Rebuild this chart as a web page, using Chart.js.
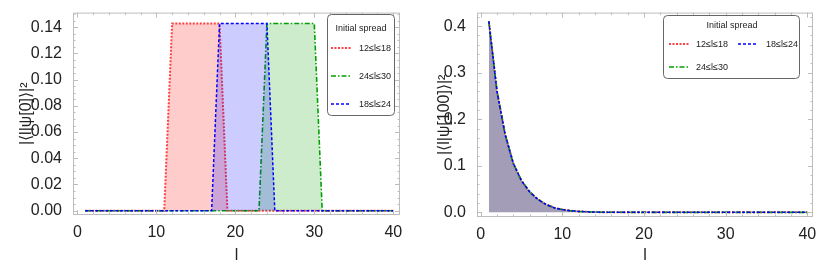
<!DOCTYPE html>
<html>
<head>
<meta charset="utf-8">
<script src="https://cdn.jsdelivr.net/npm/chart.js@4.4.1/dist/chart.umd.min.js"></script>
<style>
  html, body { margin: 0; padding: 0; background: #fff; }
  #wrap { position: relative; width: 830px; height: 265px; }
  .box { position: absolute; top: 0; width: 415px; height: 265px; }
</style>
</head>
<body>
<div id="wrap">
  <div class="box" style="left:0"><canvas id="leftChart" width="415" height="265"></canvas></div>
  <div class="box" style="left:415px"><canvas id="rightChart" width="415" height="265"></canvas></div>
</div>
<script>
// site index l
const ells = [1,2,3,4,5,6,7,8,9,10,11,12,13,14,15,16,17,18,19,20,21,22,23,24,25,26,27,28,29,30,31,32,33,34,35,36,37,38,39,40];

// |<l|psi[0]>|^2 for the three initial spreads
const start12to18 = [0,0,0,0,0,0,0,0,0,0,0,0.1429,0.1429,0.1429,0.1429,0.1429,0.1429,0.1429,0,0,0,0,0,0,0,0,0,0,0,0,0,0,0,0,0,0,0,0,0,0];
const start24to30 = [0,0,0,0,0,0,0,0,0,0,0,0,0,0,0,0,0,0,0,0,0,0,0,0.1429,0.1429,0.1429,0.1429,0.1429,0.1429,0.1429,0,0,0,0,0,0,0,0,0,0];
const start18to24 = [0,0,0,0,0,0,0,0,0,0,0,0,0,0,0,0,0,0.1429,0.1429,0.1429,0.1429,0.1429,0.1429,0.1429,0,0,0,0,0,0,0,0,0,0,0,0,0,0,0,0];

// |<l|psi[100]>|^2 (the three spreads end up on the same curve)
const late12to18 = [0.41,0.26,0.167,0.105,0.068,0.044,0.028,0.017,0.010,0.006,0.0035,0.002,0.0011,0.0006,0.0003,0.0002,0.0001,0,0,0,0,0,0,0,0,0,0,0,0,0,0,0,0,0,0,0,0,0,0,0];
const late24to30 = [0.41,0.26,0.167,0.105,0.068,0.044,0.028,0.017,0.010,0.006,0.0035,0.002,0.0011,0.0006,0.0003,0.0002,0.0001,0,0,0,0,0,0,0,0,0,0,0,0,0,0,0,0,0,0,0,0,0,0,0];
const late18to24 = [0.41,0.26,0.167,0.105,0.068,0.044,0.028,0.017,0.010,0.006,0.0035,0.002,0.0011,0.0006,0.0003,0.0002,0.0001,0,0,0,0,0,0,0,0,0,0,0,0,0,0,0,0,0,0,0,0,0,0,0];

const seriesNames = ["12≤l≤18", "24≤l≤30", "18≤l≤24"];
const xTicks = [0, 10, 20, 30, 40];
const yTicksLeft = [0, 0.02, 0.04, 0.06, 0.08, 0.10, 0.12, 0.14];
const yTicksRight = [0, 0.1, 0.2, 0.3, 0.4];

const FONT = "'Liberation Sans', Arial, sans-serif";
const TEXT = "#222";

// red drawn first, blue last (on top), as in the original
const styles = [
  { borderColor: "#ff4040", backgroundColor: "rgba(255,0,0,0.2)", borderDash: [2, 1.5], borderWidth: 2, order: 2 },
  { borderColor: "#00a000", backgroundColor: "rgba(0,160,0,0.2)", borderDash: [5, 2, 1.5, 2], borderWidth: 1.6, order: 1 },
  { borderColor: "#0000ff", backgroundColor: "rgba(0,0,255,0.2)", borderDash: [3, 2], borderWidth: 1.5, order: 0 },
];

function pts(values) {
  return ells.map((l, i) => ({ x: l, y: values[i] }));
}

function buildSets(list) {
  return list.map((values, i) => ({
    label: seriesNames[i],
    data: pts(values),
    borderColor: styles[i].borderColor,
    backgroundColor: styles[i].backgroundColor,
    borderDash: styles[i].borderDash,
    borderWidth: styles[i].borderWidth,
    order: styles[i].order,
    pointRadius: 0,
    tension: 0,
    fill: "origin",
  }));
}

// gray frame with inward ticks on all 4 sides
const framePlugin = {
  id: "frame",
  afterDatasetsDraw(chart, args, opts) {
    const { ctx, chartArea: a, scales } = chart;
    ctx.save();
    ctx.strokeStyle = "#bdbdbd";
    ctx.lineWidth = 1;
    ctx.strokeRect(a.left + 0.5, a.top + 0.5, a.right - a.left - 1, a.bottom - a.top - 1);
    ctx.beginPath();
    opts.xMinor.forEach((v) => {
      const len = xTicks.includes(v) ? 5 : 2.5;
      const px = Math.round(scales.x.getPixelForValue(v)) + 0.5;
      ctx.moveTo(px, a.bottom); ctx.lineTo(px, a.bottom - len);
      ctx.moveTo(px, a.top); ctx.lineTo(px, a.top + len);
    });
    opts.yMinor.forEach((v) => {
      const len = opts.yMajor.some((m) => Math.abs(m - v) < 1e-9) ? 5 : 2.5;
      const py = Math.round(scales.y.getPixelForValue(v)) + 0.5;
      ctx.moveTo(a.left, py); ctx.lineTo(a.left + len, py);
      ctx.moveTo(a.right, py); ctx.lineTo(a.right - len, py);
    });
    ctx.stroke();
    ctx.restore();
  },
};

// boxed legend like the Mathematica one
const boxLegend = {
  id: "boxLegend",
  afterDraw(chart, args, opts) {
    const ctx = chart.ctx;
    ctx.save();
    ctx.fillStyle = "#fff";
    ctx.strokeStyle = "#666";
    ctx.lineWidth = 1;
    ctx.beginPath();
    ctx.roundRect(opts.x + 0.5, opts.y + 0.5, opts.w, opts.h, 4);
    ctx.fill();
    ctx.stroke();
    ctx.font = "9px " + FONT;
    ctx.fillStyle = TEXT;
    ctx.textAlign = "center";
    ctx.textBaseline = "middle";
    ctx.fillText("Initial spread", opts.titleX, opts.titleY);
    ctx.textAlign = "left";
    opts.rows.forEach((r) => {
      const ds = chart.data.datasets[r.ds];
      ctx.strokeStyle = ds.borderColor;
      ctx.lineWidth = ds.borderWidth;
      ctx.setLineDash(ds.borderDash);
      ctx.beginPath();
      ctx.moveTo(r.sx, r.y);
      ctx.lineTo(r.sx + 20, r.y);
      ctx.stroke();
      ctx.setLineDash([]);
      ctx.fillStyle = TEXT;
      ctx.fillText(ds.label, r.tx, r.y + 0.5);
    });
    ctx.restore();
  },
};

function range(a, b, step) {
  let out = [];
  for (let v = a; v <= b + 1e-9; v += step) out.push(Math.round(v * 1000) / 1000);
  return out;
}

let leftChart = new Chart(document.getElementById("leftChart"), {
  type: "line",
  data: { datasets: buildSets([start12to18, start24to30, start18to24]) },
  options: {
    responsive: false,
    animation: false,
    devicePixelRatio: 1,
    layout: { padding: { left: 0, right: 15, top: 12, bottom: 0 } },
    plugins: {
      legend: { display: false },
      tooltip: { enabled: false },
      frame: { xMinor: range(0, 40, 2), yMinor: range(0, 0.15, 0.005), yMajor: yTicksLeft },
      boxLegend: {
        x: 327, y: 14, w: 67, h: 101, titleX: 361, titleY: 29,
        rows: [
          { ds: 0, sx: 331, tx: 359, y: 48 },
          { ds: 1, sx: 331, tx: 359, y: 76 },
          { ds: 2, sx: 331, tx: 359, y: 104 },
        ],
      },
    },
    scales: {
      x: {
        type: "linear",
        min: -0.55,
        max: 40.85,
        grid: { display: false },
        border: { display: false },
        afterBuildTicks: (s) => { s.ticks = xTicks.map((v) => ({ value: v })); },
        afterFit: (s) => { s.height = 50; },
        ticks: { font: { family: FONT, size: 16 }, color: TEXT, padding: 0, maxRotation: 0 },
        title: { display: true, text: "l", font: { family: FONT, size: 16 }, color: TEXT, padding: { top: 11.5, bottom: 0 } },
      },
      y: {
        min: -0.0033,
        max: 0.1512,
        grid: { display: false },
        border: { display: false },
        afterBuildTicks: (s) => { s.ticks = yTicksLeft.map((v) => ({ value: v })); },
        afterFit: (s) => { s.width = 73; },
        ticks: { font: { family: FONT, size: 16 }, color: TEXT, padding: 3, callback: (v) => v.toFixed(2) },
        title: { display: true, text: "|⟨l|ψ[0]⟩|²", font: { family: FONT, size: 16 }, color: TEXT, padding: { top: 17.4, bottom: 0 } },
      },
    },
  },
  plugins: [framePlugin, boxLegend],
});

let rightChart = new Chart(document.getElementById("rightChart"), {
  type: "line",
  data: { datasets: buildSets([late12to18, late24to30, late18to24]) },
  options: {
    responsive: false,
    animation: false,
    devicePixelRatio: 1,
    layout: { padding: { left: 0, right: 17, top: 12, bottom: 0 } },
    plugins: {
      legend: { display: false },
      tooltip: { enabled: false },
      frame: { xMinor: range(0, 40, 2), yMinor: range(0, 0.42, 0.02), yMajor: yTicksRight },
      boxLegend: {
        x: 248, y: 15, w: 136, h: 63, titleX: 317, titleY: 26,
        rows: [
          { ds: 0, sx: 254, tx: 281, y: 44 },
          { ds: 2, sx: 323, tx: 351, y: 44 },
          { ds: 1, sx: 254, tx: 281, y: 67 },
        ],
      },
    },
    scales: {
      x: {
        type: "linear",
        min: -0.45,
        max: 40.7,
        grid: { display: false },
        border: { display: false },
        afterBuildTicks: (s) => { s.ticks = xTicks.map((v) => ({ value: v })); },
        afterFit: (s) => { s.height = 48; },
        ticks: { font: { family: FONT, size: 16 }, color: TEXT, padding: 0, maxRotation: 0 },
        title: { display: true, text: "l", font: { family: FONT, size: 16 }, color: TEXT, padding: { top: 11.5, bottom: 0 } },
      },
      y: {
        min: -0.01,
        max: 0.429,
        grid: { display: false },
        border: { display: false },
        afterBuildTicks: (s) => { s.ticks = yTicksRight.map((v) => ({ value: v })); },
        afterFit: (s) => { s.width = 62; },
        ticks: { font: { family: FONT, size: 16 }, color: TEXT, padding: 3, callback: (v) => v.toFixed(1) },
        title: { display: true, text: "|⟨l|ψ[100]⟩|²", font: { family: FONT, size: 16 }, color: TEXT, padding: { top: 20.4, bottom: 0 } },
      },
    },
  },
  plugins: [framePlugin, boxLegend],
});
</script>
</body>
</html>
